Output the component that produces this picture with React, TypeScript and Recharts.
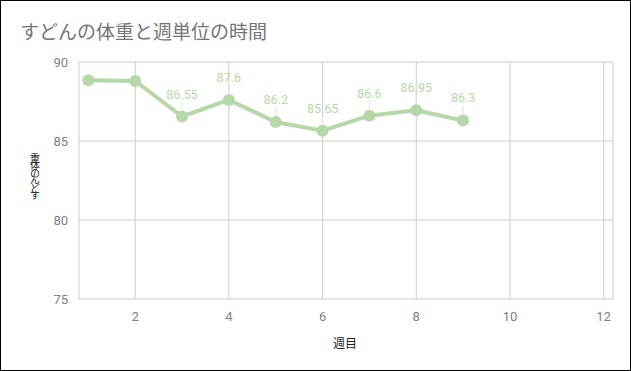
import { CartesianGrid, LabelList, Line, LineChart, XAxis, YAxis } from 'recharts';

// 週ごとの体重
const weeks = [1, 2, 3, 4, 5, 6, 7, 8, 9];
const weights = [88.85, 88.8, 86.55, 87.6, 86.2, 85.65, 86.6, 86.95, 86.3];
// 注釈ラベル（1・2週目は表示されていない）
const annotations = ['', '', '86.55', '87.6', '86.2', '85.65', '86.6', '86.95', '86.3'];

const xTicks = [2, 4, 6, 8, 10, 12];
const yTicks = [75, 80, 85, 90];

const TITLE = 'すどんの体重と週単位の時間';
const X_LABEL = '週目';
const Y_LABEL = '重体のんどす';

const LINE_COLOR = '#b6d7a8';
const GRID_COLOR = '#cccccc';
const TEXT_GREY = '#808080';

const data = weeks.map((w, i) => ({ week: w, weight: weights[i], note: annotations[i] }));

function Annotation(props: any) {
  const { x, y, value } = props;
  if (!value) return null;
  return (
    <g>
      <line x1={x} y1={y - 6} x2={x} y2={y - 15} stroke="#dce9d6" strokeWidth={1} />
      <text
        x={x}
        y={y - 18}
        textAnchor="middle"
        fontSize={12.5}
        fontFamily="Roboto"
        fill={LINE_COLOR}
      >
        {value}
      </text>
    </g>
  );
}

export default function App() {
  return (
    <div
      style={{
        position: 'absolute',
        left: 0,
        top: 0,
        width: 631,
        height: 371,
        boxSizing: 'border-box',
        border: '1px solid #000',
        background: '#fff',
      }}
    >
      <svg width={631} height={60} style={{ position: 'absolute', left: -1, top: -1 }}>
        <text x={20} y={39} fontSize={19} fontFamily="'Noto Sans CJK JP'" fill="#757575">
          {TITLE}
        </text>
      </svg>
      <div style={{ position: 'absolute', left: -1, top: -1 }}>
        <LineChart
          width={631}
          height={371}
          data={data}
          margin={{ top: 62, right: 18, bottom: 42, left: 0 }}
        >
          <CartesianGrid stroke={GRID_COLOR} vertical horizontal />
          <XAxis
            dataKey="week"
            type="number"
            domain={[0.8, 12.2]}
            ticks={xTicks}
            allowDataOverflow
            height={30}
            axisLine={false}
            tickLine={false}
            tick={{ fill: TEXT_GREY, fontSize: 13, fontFamily: 'Roboto' }}
            tickMargin={7}
          />
          <YAxis
            type="number"
            domain={[75, 90]}
            ticks={yTicks}
            width={79}
            axisLine={false}
            tickLine={false}
            tick={{ fill: TEXT_GREY, fontSize: 13, fontFamily: 'Roboto' }}
            tickMargin={5}
          />
          <Line
            dataKey="weight"
            stroke={LINE_COLOR}
            strokeWidth={4}
            dot={{ r: 6, fill: LINE_COLOR, stroke: LINE_COLOR, strokeWidth: 0 }}
            activeDot={false}
            isAnimationActive={false}
          >
            <LabelList dataKey="note" content={<Annotation />} />
          </Line>
        </LineChart>
      </div>
      <svg width={631} height={371} style={{ position: 'absolute', left: -1, top: -1, pointerEvents: 'none' }}>
        <text x={345} y={348} textAnchor="middle" fontSize={12} fontFamily="'Noto Sans CJK JP'" fill="#222">
          {X_LABEL}
        </text>
        <text
          x={35}
          y={153}
          fontSize={10}
          fontFamily="'Noto Sans CJK JP'"
          fill="#222"
          style={{ writingMode: 'vertical-rl', letterSpacing: '-2.5px' }}
        >
          {Y_LABEL}
        </text>
      </svg>
    </div>
  );
}
